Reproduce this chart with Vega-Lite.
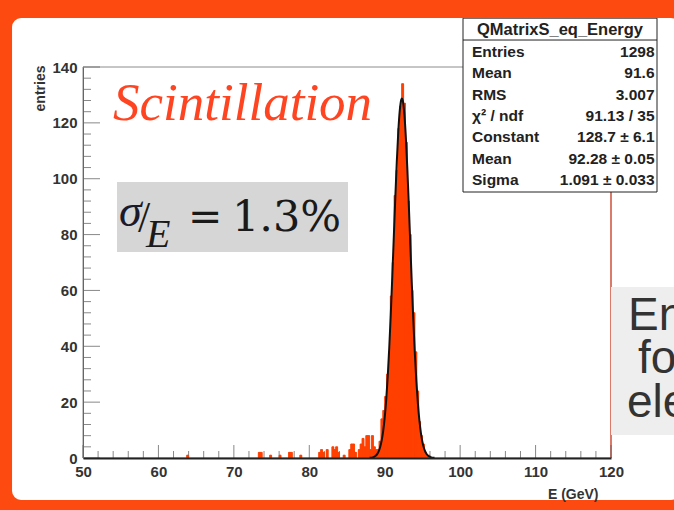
{
  "$schema": "https://vega.github.io/schema/vega-lite/v6.json",
  "width": 528,
  "height": 391,
  "autosize": {"type": "none"},
  "padding": {"left": 83, "top": 67, "right": 63, "bottom": 52},
  "background": "#ffffff",
  "config": {"view": {"stroke": null}},
  "datasets": {
    "hist": [
      {"lo": 63.75, "hi": 64, "n": 1},
      {"lo": 73.25, "hi": 73.5, "n": 2}, {"lo": 73.5, "hi": 73.75, "n": 2},
      {"lo": 74.75, "hi": 75, "n": 1},
      {"lo": 76, "hi": 76.25, "n": 1},
      {"lo": 77.25, "hi": 77.5, "n": 2}, {"lo": 77.5, "hi": 77.75, "n": 2},
      {"lo": 78.75, "hi": 79, "n": 1},
      {"lo": 81.25, "hi": 81.5, "n": 2}, {"lo": 81.5, "hi": 81.75, "n": 3}, {"lo": 81.75, "hi": 82, "n": 2},
      {"lo": 82.25, "hi": 82.5, "n": 3},
      {"lo": 83, "hi": 83.25, "n": 4}, {"lo": 83.25, "hi": 83.5, "n": 3}, {"lo": 83.5, "hi": 83.75, "n": 4}, {"lo": 83.75, "hi": 84, "n": 2},
      {"lo": 84.5, "hi": 84.75, "n": 1},
      {"lo": 85.25, "hi": 85.5, "n": 3}, {"lo": 85.5, "hi": 85.75, "n": 5}, {"lo": 85.75, "hi": 86, "n": 5},
      {"lo": 86, "hi": 86.25, "n": 2},
      {"lo": 86.5, "hi": 86.75, "n": 3}, {"lo": 86.75, "hi": 87, "n": 5}, {"lo": 87, "hi": 87.25, "n": 7}, {"lo": 87.25, "hi": 87.5, "n": 4},
      {"lo": 87.5, "hi": 87.75, "n": 8}, {"lo": 87.75, "hi": 88, "n": 8}, {"lo": 88, "hi": 88.25, "n": 3}, {"lo": 88.25, "hi": 88.5, "n": 8},
      {"lo": 88.5, "hi": 88.75, "n": 4}, {"lo": 88.75, "hi": 89, "n": 3}, {"lo": 89, "hi": 89.25, "n": 3}, {"lo": 89.25, "hi": 89.5, "n": 6},
      {"lo": 89.5, "hi": 89.75, "n": 14}, {"lo": 89.75, "hi": 90, "n": 17}, {"lo": 90, "hi": 90.25, "n": 22}, {"lo": 90.25, "hi": 90.5, "n": 30},
      {"lo": 90.5, "hi": 90.75, "n": 38}, {"lo": 90.75, "hi": 91, "n": 58}, {"lo": 91, "hi": 91.25, "n": 70}, {"lo": 91.25, "hi": 91.5, "n": 94},
      {"lo": 91.5, "hi": 91.75, "n": 103}, {"lo": 91.75, "hi": 92, "n": 118}, {"lo": 92, "hi": 92.25, "n": 126}, {"lo": 92.25, "hi": 92.5, "n": 134},
      {"lo": 92.5, "hi": 92.75, "n": 127}, {"lo": 92.75, "hi": 93, "n": 113}, {"lo": 93, "hi": 93.25, "n": 92}, {"lo": 93.25, "hi": 93.5, "n": 80},
      {"lo": 93.5, "hi": 93.75, "n": 60}, {"lo": 93.75, "hi": 94, "n": 52}, {"lo": 94, "hi": 94.25, "n": 38}, {"lo": 94.25, "hi": 94.5, "n": 24},
      {"lo": 94.5, "hi": 94.75, "n": 13}, {"lo": 94.75, "hi": 95, "n": 8}, {"lo": 95, "hi": 95.25, "n": 5}, {"lo": 95.25, "hi": 95.5, "n": 2},
      {"lo": 95.5, "hi": 95.75, "n": 1}, {"lo": 95.75, "hi": 96, "n": 1}
    ],
    "fit": [
      {"e": 88.0, "f": 0.06}, {"e": 88.2, "f": 0.12}, {"e": 88.4, "f": 0.23}, {"e": 88.6, "f": 0.44}, {"e": 88.8, "f": 0.8},
      {"e": 89.0, "f": 1.4}, {"e": 89.2, "f": 2.4}, {"e": 89.4, "f": 3.95}, {"e": 89.6, "f": 6.3}, {"e": 89.8, "f": 9.72},
      {"e": 90.0, "f": 14.49}, {"e": 90.2, "f": 20.91}, {"e": 90.4, "f": 29.17}, {"e": 90.6, "f": 39.33}, {"e": 90.8, "f": 51.28},
      {"e": 91.0, "f": 64.67}, {"e": 91.2, "f": 78.85}, {"e": 91.4, "f": 92.96}, {"e": 91.6, "f": 105.98}, {"e": 91.8, "f": 116.83},
      {"e": 92.0, "f": 124.53}, {"e": 92.2, "f": 128.35}, {"e": 92.28, "f": 128.7}, {"e": 92.4, "f": 127.92}, {"e": 92.6, "f": 123.28},
      {"e": 92.8, "f": 114.88}, {"e": 93.0, "f": 103.51}, {"e": 93.2, "f": 90.19}, {"e": 93.4, "f": 75.99}, {"e": 93.6, "f": 61.9},
      {"e": 93.8, "f": 48.77}, {"e": 94.0, "f": 37.14}, {"e": 94.2, "f": 27.36}, {"e": 94.4, "f": 19.49}, {"e": 94.6, "f": 13.42},
      {"e": 94.8, "f": 8.93}, {"e": 95.0, "f": 5.75}, {"e": 95.2, "f": 3.58}, {"e": 95.4, "f": 2.16}, {"e": 95.6, "f": 1.26},
      {"e": 95.8, "f": 0.71}, {"e": 96.0, "f": 0.38}, {"e": 96.2, "f": 0.2}, {"e": 96.4, "f": 0.1}, {"e": 96.6, "f": 0.05}
    ],
    "ytM": [{"v": 0}, {"v": 20}, {"v": 40}, {"v": 60}, {"v": 80}, {"v": 100}, {"v": 120}, {"v": 140}],
    "ytm": [{"v": 4}, {"v": 8}, {"v": 12}, {"v": 16}, {"v": 24}, {"v": 28}, {"v": 32}, {"v": 36}, {"v": 44}, {"v": 48}, {"v": 52}, {"v": 56}, {"v": 64}, {"v": 68}, {"v": 72}, {"v": 76}, {"v": 84}, {"v": 88}, {"v": 92}, {"v": 96}, {"v": 104}, {"v": 108}, {"v": 112}, {"v": 116}, {"v": 124}, {"v": 128}, {"v": 132}, {"v": 136}],
    "xtM": [{"v": 50}, {"v": 60}, {"v": 70}, {"v": 80}, {"v": 90}, {"v": 100}, {"v": 110}, {"v": 120}],
    "xtm": [{"v": 52}, {"v": 54}, {"v": 56}, {"v": 58}, {"v": 62}, {"v": 64}, {"v": 66}, {"v": 68}, {"v": 72}, {"v": 74}, {"v": 76}, {"v": 78}, {"v": 82}, {"v": 84}, {"v": 86}, {"v": 88}, {"v": 92}, {"v": 94}, {"v": 96}, {"v": 98}, {"v": 102}, {"v": 104}, {"v": 106}, {"v": 108}, {"v": 112}, {"v": 114}, {"v": 116}, {"v": 118}]
  },
  "layer": [
    {
      "data": {"name": "hist"},
      "mark": {"type": "rect", "color": "#ff4000", "stroke": "#ff4000", "strokeWidth": 0.6},
      "encoding": {
        "x": {"field": "lo", "type": "quantitative", "scale": {"domain": [50, 120], "nice": false, "zero": false},
          "axis": {"values": [50, 60, 70, 80, 90, 100, 110, 120], "ticks": false, "grid": false, "domainColor": "#222222", "domainWidth": 2,
            "labelFont": "Liberation Sans", "labelFontSize": 15, "labelFontWeight": "bold", "labelColor": "#333333", "labelPadding": 6,
            "labelFlush": false, "labelOverlap": false,
            "title": "E (GeV)", "titleFont": "Liberation Sans", "titleFontSize": 14, "titleFontWeight": "bold", "titleColor": "#333333",
            "titleX": 515, "titleY": 36, "titleAlign": "right", "titleBaseline": "middle", "zindex": 1}},
        "x2": {"field": "hi"},
        "y": {"field": "n", "type": "quantitative", "scale": {"domain": [0, 140], "nice": false, "zero": false},
          "axis": {"values": [0, 20, 40, 60, 80, 100, 120, 140], "ticks": false, "grid": false, "domainColor": "#666666", "domainWidth": 1,
            "labelFont": "Liberation Sans", "labelFontSize": 15, "labelFontWeight": "bold", "labelColor": "#333333", "labelPadding": 6,
            "labelFlush": false, "labelOverlap": false,
            "title": "entries", "titleFont": "Liberation Sans", "titleFontSize": 14, "titleFontWeight": "bold", "titleColor": "#333333",
            "titleAngle": 270, "titleX": -43, "titleY": -2, "titleAlign": "right", "titleBaseline": "middle", "zindex": 1}},
        "y2": {"datum": 0}
      }
    },
    {
      "data": {"values": [{}]},
      "mark": {"type": "rect", "fillOpacity": 0, "stroke": "#8c8c8c", "strokeWidth": 1},
      "encoding": {
        "x": {"datum": 50, "type": "quantitative"},
        "x2": {"datum": 120},
        "y": {"datum": 140, "type": "quantitative"},
        "y2": {"datum": 0}
      }
    },
    {
      "data": {"values": [{}]},
      "mark": {"type": "rule", "color": "#e0604c", "strokeWidth": 1.5},
      "encoding": {
        "x": {"datum": 120, "type": "quantitative"},
        "y": {"datum": 0, "type": "quantitative"},
        "y2": {"datum": 140}
      }
    },
    {
      "data": {"values": [{}]},
      "mark": {"type": "rect", "fill": "#d6d6d6", "clip": false},
      "encoding": {
        "x": {"datum": 54.51, "type": "quantitative"},
        "x2": {"datum": 85.13},
        "y": {"datum": 98.82, "type": "quantitative"},
        "y2": {"datum": 73.76}
      }
    },
    {
      "data": {"name": "ytM"},
      "mark": {"type": "tick", "orient": "horizontal", "xOffset": 8.5, "thickness": 1, "color": "#555555"},
      "encoding": {
        "x": {"datum": 50, "type": "quantitative"},
        "y": {"field": "v", "type": "quantitative"},
        "size": {"value": 17}
      }
    },
    {
      "data": {"name": "ytm"},
      "mark": {"type": "tick", "orient": "horizontal", "xOffset": 4, "thickness": 1, "color": "#555555"},
      "encoding": {
        "x": {"datum": 50, "type": "quantitative"},
        "y": {"field": "v", "type": "quantitative"},
        "size": {"value": 8}
      }
    },
    {
      "data": {"name": "xtM"},
      "mark": {"type": "tick", "orient": "vertical", "yOffset": -6.5, "thickness": 1, "color": "#555555"},
      "encoding": {
        "x": {"field": "v", "type": "quantitative"},
        "y": {"datum": 0, "type": "quantitative"},
        "size": {"value": 13}
      }
    },
    {
      "data": {"name": "xtm"},
      "mark": {"type": "tick", "orient": "vertical", "yOffset": -3.5, "thickness": 1, "color": "#555555"},
      "encoding": {
        "x": {"field": "v", "type": "quantitative"},
        "y": {"datum": 0, "type": "quantitative"},
        "size": {"value": 7}
      }
    },
    {
      "data": {"name": "hist"},
      "mark": {"type": "rect", "color": "#ff4000", "stroke": "#ff4000", "strokeWidth": 0.6},
      "encoding": {
        "x": {"field": "lo", "type": "quantitative"},
        "x2": {"field": "hi"},
        "y": {"field": "n", "type": "quantitative"},
        "y2": {"datum": 0}
      }
    },
    {
      "data": {"name": "fit"},
      "mark": {"type": "line", "color": "#111111", "strokeWidth": 2, "interpolate": "monotone"},
      "encoding": {
        "x": {"field": "e", "type": "quantitative"},
        "y": {"field": "f", "type": "quantitative"}
      }
    },
    {
      "data": {"values": [{"t": "Scintillation"}]},
      "mark": {"type": "text", "align": "left", "baseline": "alphabetic", "font": "Liberation Serif", "fontStyle": "italic", "fontSize": 53, "color": "#ff4422"},
      "encoding": {
        "x": {"datum": 53.98, "type": "quantitative"},
        "y": {"datum": 121.02, "type": "quantitative"},
        "text": {"field": "t"}
      }
    },
    {
      "data": {"values": [{"t": "σ"}]},
      "mark": {"type": "text", "align": "left", "baseline": "alphabetic", "font": "Liberation Serif", "fontStyle": "italic", "fontSize": 46, "color": "#1a1a2a"},
      "encoding": {
        "x": {"datum": 54.77, "type": "quantitative"},
        "y": {"datum": 83.06, "type": "quantitative"},
        "text": {"field": "t"}
      }
    },
    {
      "data": {"values": [{"t": "/"}]},
      "mark": {"type": "text", "align": "left", "baseline": "alphabetic", "font": "Liberation Serif", "fontSize": 44, "color": "#1a1a1a"},
      "encoding": {
        "x": {"datum": 57.29, "type": "quantitative"},
        "y": {"datum": 80.92, "type": "quantitative"},
        "text": {"field": "t"}
      }
    },
    {
      "data": {"values": [{"t": "E"}]},
      "mark": {"type": "text", "align": "left", "baseline": "alphabetic", "font": "Liberation Serif", "fontStyle": "italic", "fontSize": 40, "color": "#1a1a1a"},
      "encoding": {
        "x": {"datum": 58.35, "type": "quantitative"},
        "y": {"datum": 75.55, "type": "quantitative"},
        "text": {"field": "t"}
      }
    },
    {
      "data": {"values": [{"t": "="}]},
      "mark": {"type": "text", "align": "left", "baseline": "alphabetic", "font": "DejaVu Serif", "fontSize": 41, "color": "#1a1a1a"},
      "encoding": {
        "x": {"datum": 63.92, "type": "quantitative"},
        "y": {"datum": 81.63, "type": "quantitative"},
        "text": {"field": "t"}
      }
    },
    {
      "data": {"values": [{"t": "1.3%"}]},
      "mark": {"type": "text", "align": "left", "baseline": "alphabetic", "font": "DejaVu Serif", "fontSize": 43, "color": "#1a1a1a"},
      "encoding": {
        "x": {"datum": 69.75, "type": "quantitative"},
        "y": {"datum": 81.27, "type": "quantitative"},
        "text": {"field": "t"}
      }
    },
    {
      "data": {"values": [{}]},
      "mark": {"type": "rect", "fill": "#ffffff", "stroke": "#222222", "strokeWidth": 1, "clip": false},
      "encoding": {
        "x": {"datum": 100.38, "type": "quantitative"},
        "x2": {"datum": 126.1},
        "y": {"datum": 157.5, "type": "quantitative"},
        "y2": {"datum": 95.24}
      }
    },
    {
      "data": {"values": [{}]},
      "mark": {"type": "rule", "color": "#222222", "strokeWidth": 1},
      "encoding": {
        "x": {"datum": 100.38, "type": "quantitative"},
        "x2": {"datum": 126.1},
        "y": {"datum": 149.66, "type": "quantitative"}
      }
    },
    {
      "data": {"values": [{"t": "QMatrixS_eq_Energy"}]},
      "mark": {"type": "text", "align": "center", "baseline": "middle", "font": "Liberation Sans", "fontWeight": "bold", "fontSize": 16.5, "color": "#222222"},
      "encoding": {
        "x": {"datum": 113.24, "type": "quantitative"},
        "y": {"datum": 153.24, "type": "quantitative"},
        "text": {"field": "t"}
      }
    },
    {
      "data": {"values": [{"t": "Entries\nMean\nRMS\nχ² / ndf\nConstant\nMean\nSigma"}]},
      "mark": {"type": "text", "align": "left", "baseline": "middle", "lineBreak": "\n", "lineHeight": 21.4, "font": "Liberation Sans", "fontWeight": "bold", "fontSize": 15.5, "color": "#222222"},
      "encoding": {
        "x": {"datum": 101.57, "type": "quantitative"},
        "y": {"datum": 145.47, "type": "quantitative"},
        "text": {"field": "t"}
      }
    },
    {
      "data": {"values": [{"t": "1298\n91.6\n3.007\n91.13 / 35\n128.7 ± 6.1\n92.28 ± 0.05\n1.091 ± 0.033"}]},
      "mark": {"type": "text", "align": "right", "baseline": "middle", "lineBreak": "\n", "lineHeight": 21.4, "font": "Liberation Sans", "fontWeight": "bold", "fontSize": 15.5, "color": "#222222"},
      "encoding": {
        "x": {"datum": 125.77, "type": "quantitative"},
        "y": {"datum": 145.47, "type": "quantitative"},
        "text": {"field": "t"}
      }
    },
    {
      "data": {"values": [{}]},
      "mark": {"type": "rect", "fill": "#eeeeee", "clip": false},
      "encoding": {
        "x": {"datum": 120, "type": "quantitative"},
        "x2": {"datum": 135},
        "y": {"datum": 61.22, "type": "quantitative"},
        "y2": {"datum": 8.23}
      }
    },
    {
      "data": {"values": [{"t": "En"}]},
      "mark": {"type": "text", "align": "left", "baseline": "alphabetic", "font": "Liberation Sans", "fontSize": 46, "color": "#333333"},
      "encoding": {
        "x": {"datum": 122.25, "type": "quantitative"},
        "y": {"datum": 45.83, "type": "quantitative"},
        "text": {"field": "t"}
      }
    },
    {
      "data": {"values": [{"t": "for"}]},
      "mark": {"type": "text", "align": "left", "baseline": "alphabetic", "font": "Liberation Sans", "fontSize": 46, "color": "#333333"},
      "encoding": {
        "x": {"datum": 123.58, "type": "quantitative"},
        "y": {"datum": 30.43, "type": "quantitative"},
        "text": {"field": "t"}
      }
    },
    {
      "data": {"values": [{"t": "ele"}]},
      "mark": {"type": "text", "align": "left", "baseline": "alphabetic", "font": "Liberation Sans", "fontSize": 46, "color": "#333333"},
      "encoding": {
        "x": {"datum": 122.12, "type": "quantitative"},
        "y": {"datum": 14.68, "type": "quantitative"},
        "text": {"field": "t"}
      }
    },
    {
      "data": {"values": [{}]},
      "mark": {"type": "rect", "fillOpacity": 0, "stroke": "#fc4a10", "strokeWidth": 40, "cornerRadius": 29, "clip": false},
      "encoding": {
        "x": {"datum": 37.94, "type": "quantitative"},
        "x2": {"datum": 131.8},
        "y": {"datum": 164.7, "type": "quantitative"},
        "y2": {"datum": -22.2}
      }
    }
  ]
}
